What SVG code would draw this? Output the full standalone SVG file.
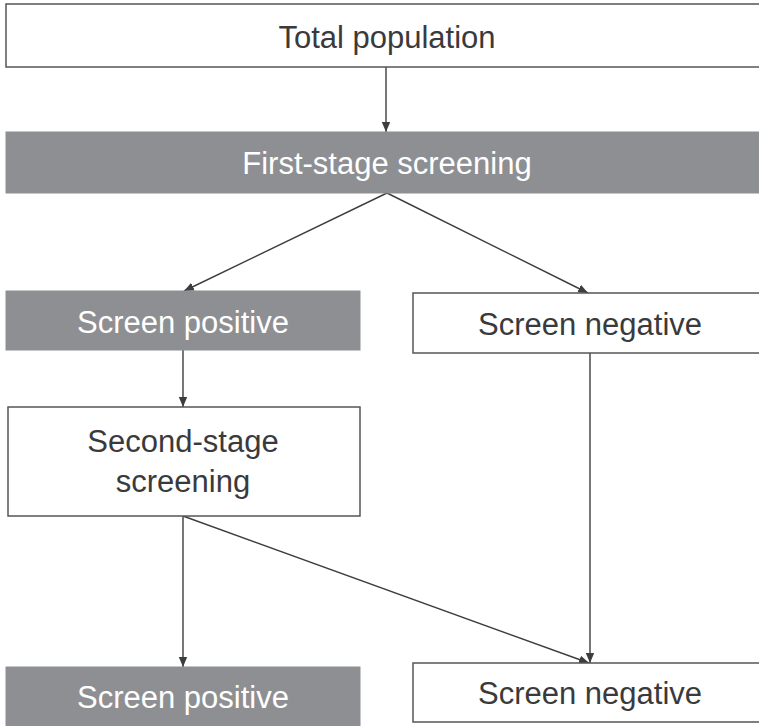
<svg xmlns="http://www.w3.org/2000/svg" width="759" height="726" viewBox="0 0 759 726">
<style>
.w{fill:#ffffff;stroke:#555658;stroke-width:1.5}
.g{fill:#8e8f93;stroke:#8e8f93;stroke-width:1}
.t{font-family:"Liberation Sans",Arial,sans-serif;font-size:31px;text-anchor:middle}
.dk{fill:#3a3a3c}
.lt{fill:#ffffff}
.c{stroke:#3d3d3f;stroke-width:1.4;fill:none;marker-end:url(#a)}
</style>
<defs>
<marker id="a" viewBox="0 0 10 10" refX="10" refY="5" markerWidth="10" markerHeight="10" markerUnits="userSpaceOnUse" orient="auto">
<path d="M0,0.8 L10,5 L0,9.2 Z" fill="#3d3d3f"/>
</marker>
</defs>
<rect width="759" height="726" fill="#ffffff"/>
<g id="connectors">
<line class="c" x1="386" y1="67" x2="386" y2="132"/>
<line class="c" x1="387" y1="193" x2="184" y2="291"/>
<line class="c" x1="387" y1="193" x2="588" y2="293"/>
<line class="c" x1="183" y1="350" x2="183" y2="407"/>
<line class="c" x1="183" y1="516" x2="183" y2="667"/>
<line class="c" x1="183" y1="516" x2="589" y2="663"/>
<line class="c" x1="590" y1="353" x2="590" y2="663"/>
</g>
<g id="total">
<rect class="w" x="6" y="4" width="760" height="63"/>
<text class="t dk" x="387" y="48">Total population</text>
</g>
<g id="first">
<rect class="g" x="6" y="132" width="760" height="61"/>
<text class="t lt" x="387" y="174">First-stage screening</text>
</g>
<g id="pos1">
<rect class="g" x="6" y="291" width="354" height="59"/>
<text class="t lt" x="183" y="333">Screen positive</text>
</g>
<g id="neg1">
<rect class="w" x="413" y="293" width="353" height="60"/>
<text class="t dk" x="590" y="335">Screen negative</text>
</g>
<g id="second">
<rect class="w" x="8" y="407" width="352" height="109"/>
<text class="t dk" x="183" y="452">Second-stage</text>
<text class="t dk" x="183" y="492">screening</text>
</g>
<g id="pos2">
<rect class="g" x="6" y="667" width="354" height="70"/>
<text class="t lt" x="183" y="708">Screen positive</text>
</g>
<g id="neg2">
<rect class="w" x="413" y="663" width="353" height="59"/>
<text class="t dk" x="590" y="704">Screen negative</text>
</g>
</svg>
